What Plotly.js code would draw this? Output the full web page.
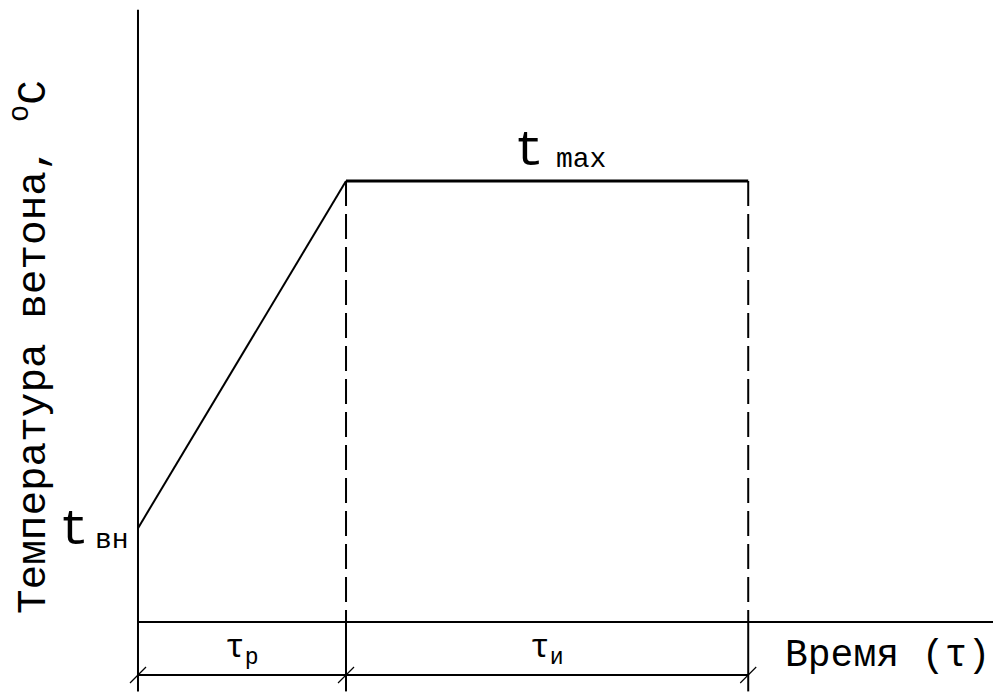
<!DOCTYPE html>
<html>
<head>
<meta charset="utf-8">
<script src="https://cdn.plot.ly/plotly-3.0.1.min.js"></script>
<style>
  html, body { margin: 0; padding: 0; background: #fff; }
  #myDiv { width: 993px; height: 693px; }
</style>
</head>
<body>
<div id="myDiv"></div>
<script>
// time marks: start, end of heating (tau_p), end of isothermal hold (tau_i)
var times = [0, 3, 8.8];
// concrete temperature: initial t_vn, max t_max
var temps = [20, 94, 94];
var labelTvn = 't';
var subTvn = 'вн';
var labelTmax = 't';
var subTmax = 'max';
var labelTauP = 'τ<sub>р</sub>';
var labelTauI = 'τ<sub>и</sub>';
var xTitle = 'Время (τ)';
var yTitle = 'Температура ветона, <sup>о</sup>С';

// axis extents (data units)
var xMin = -1.99, xMax = 12.33;
var yMin = -15.14, yMax = 132.6;
var yTop = 130.5, yBottom = -14.8, yDim = -11.3;

var pxX = 993 / (xMax - xMin);
var pxY = 693 / (yMax - yMin);
var font = 'Liberation Mono, DejaVu Sans Mono, monospace';

var rise = {
  x: times.slice(0, 2),
  y: temps.slice(0, 2),
  type: 'scatter',
  mode: 'lines',
  line: {color: '#000', width: 2},
  hoverinfo: 'skip'
};
var hold = {
  x: times.slice(1, 3),
  y: temps.slice(1, 3),
  type: 'scatter',
  mode: 'lines',
  line: {color: '#000', width: 3},
  hoverinfo: 'skip'
};

var shapes = [];
function seg(x0, y0, x1, y1, w, dash) {
  shapes.push({type: 'line', xref: 'x', yref: 'y', x0: x0, y0: y0, x1: x1, y1: y1,
    line: {color: '#000', width: w, dash: dash || 'solid'}});
}
// axes
seg(times[0], yTop, times[0], yBottom, 2);
seg(times[0], 0, xMax, 0, 2);
// dimension line
seg(times[0], yDim, times[2], yDim, 2);
// verticals: dashed above the time axis, solid below
for (var i = 1; i < times.length; i++) {
  seg(times[i], temps[i], times[i], 0, 2, '25px,8px');
  seg(times[i], 0, times[i], yBottom, 2);
}
// slash ticks on the dimension line
for (var j = 0; j < times.length; j++) {
  var dx = 8 / pxX, dy = 8 / pxY;
  seg(times[j] - dx, yDim - dy, times[j] + dx, yDim + dy, 1.2);
}

function note(text, x, y, size, opts) {
  var a = {text: text, x: x, y: y, xref: 'x', yref: 'y', showarrow: false,
    font: {family: font, size: size, color: '#000'}, xanchor: 'center', yanchor: 'middle'};
  for (var k in opts) a[k] = opts[k];
  return a;
}

var annotations = [
  note(labelTvn, times[0], temps[0], 50, {xshift: -64, yshift: -2}),
  note(subTvn, times[0], temps[0], 28, {xshift: -26, yshift: -12}),
  note(labelTmax, (times[1] + times[2]) / 2, temps[1], 50, {xshift: -18, yshift: 30}),
  note(subTmax, (times[1] + times[2]) / 2, temps[1], 28, {xshift: 34, yshift: 22}),
  note(labelTauP, (times[0] + times[1]) / 2, yDim, 33, {yshift: 24}),
  note(labelTauI, (times[1] + times[2]) / 2, yDim, 33, {yshift: 24}),
  note(xTitle, 12.31, 0, 38, {xanchor: 'right', yshift: -34}),
  {text: yTitle, xref: 'paper', yref: 'paper', x: 31 / 993, y: 1 - 347 / 693,
    showarrow: false, textangle: -90, xanchor: 'center', yanchor: 'middle',
    font: {family: font, size: 41, color: '#000'}}
];

var layout = {
  width: 993,
  height: 693,
  margin: {l: 0, r: 0, t: 0, b: 0},
  paper_bgcolor: '#fff',
  plot_bgcolor: '#fff',
  showlegend: false,
  xaxis: {range: [xMin, xMax], visible: false, fixedrange: true},
  yaxis: {range: [yMin, yMax], visible: false, fixedrange: true},
  shapes: shapes,
  annotations: annotations
};

Plotly.newPlot('myDiv', [rise, hold], layout, {displayModeBar: false, staticPlot: true});
</script>
</body>
</html>
